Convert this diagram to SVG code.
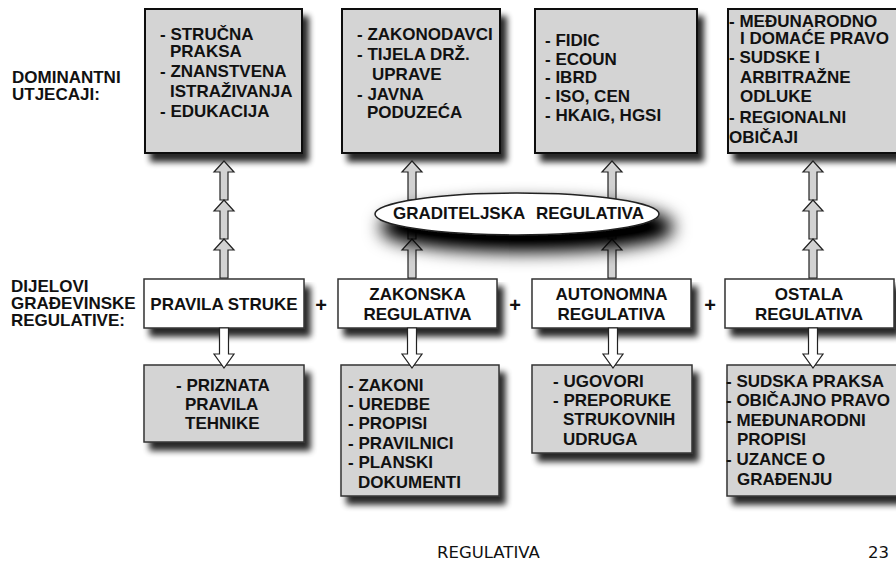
<svg xmlns="http://www.w3.org/2000/svg" xmlns:xlink="http://www.w3.org/1999/xlink" width="896" height="564" viewBox="0 0 896 564">
<style>
.t{font-family:"Liberation Sans",Arial,sans-serif;font-weight:bold;font-size:17px;fill:#111}
.c{text-anchor:middle}
.pl{font-size:20px}
.gbox{fill:#d4d4d4;stroke:#111;stroke-width:2}
.mbox{fill:#fff;stroke:#333;stroke-width:1.5}
.bbox{fill:#d4d4d4;stroke:#333;stroke-width:1.5}
.up{fill:#d2d2d2;stroke:#222;stroke-width:1.2}
.dn{fill:#fff;stroke:#222;stroke-width:1.2}
.foot{font-family:"DejaVu Sans",Verdana,sans-serif;font-size:16.5px;fill:#111}
</style>
<defs>
<filter id="sh" x="-10%" y="-10%" width="130%" height="150%">
<feGaussianBlur in="SourceAlpha" stdDeviation="3"/>
<feOffset dx="6" dy="8" result="o"/>
<feComponentTransfer><feFuncA type="linear" slope="0.85"/></feComponentTransfer>
<feMerge><feMergeNode/><feMergeNode in="SourceGraphic"/></feMerge>
</filter>
<filter id="esh" x="-30%" y="-150%" width="160%" height="420%">
<feMorphology in="SourceAlpha" operator="dilate" radius="3"/>
<feGaussianBlur stdDeviation="9"/>
<feOffset dx="10" dy="13"/>
<feComponentTransfer><feFuncA type="linear" slope="1.1"/></feComponentTransfer>
<feMerge><feMergeNode/><feMergeNode in="SourceGraphic"/></feMerge>
</filter>
<path id="ua" class="up" d="M0,0 L10,11 L4,11 L4,39 L-4,39 L-4,11 L-10,11 Z"/>
<path id="da" class="dn" d="M-4.5,0 L4.5,0 L4.5,26 L10,26 L0,40 L-10,26 L-4.5,26 Z"/>
</defs>
<rect width="896" height="564" fill="#fff"/>

<g id="label-dominantni">
<text class="t" x="12" y="83">DOMINANTNI</text>
<text class="t" x="12" y="100">UTJECAJI:</text>
</g>
<g id="label-dijelovi">
<text class="t" x="11" y="292">DIJELOVI</text>
<text class="t" x="11" y="309">GRAĐEVINSKE</text>
<text class="t" x="11" y="326">REGULATIVE:</text>
</g>

<g id="top1">
<rect class="gbox" x="145" y="9" width="157" height="144" filter="url(#sh)"/>
<text class="t" x="160" y="40">- STRUČNA</text>
<text class="t" x="170" y="57">PRAKSA</text>
<text class="t" x="160" y="77">- ZNANSTVENA</text>
<text class="t" x="170" y="97">ISTRAŽIVANJA</text>
<text class="t" x="160" y="117">- EDUKACIJA</text>
</g>
<g id="top2">
<rect class="gbox" x="342" y="9" width="158" height="144" filter="url(#sh)"/>
<text class="t" x="357" y="40">- ZAKONODAVCI</text>
<text class="t" x="357" y="60">- TIJELA DRŽ.</text>
<text class="t" x="372" y="80">UPRAVE</text>
<text class="t" x="357" y="100">- JAVNA</text>
<text class="t" x="367" y="118">PODUZEĆA</text>
</g>
<g id="top3">
<rect class="gbox" x="535" y="9" width="162" height="144" filter="url(#sh)"/>
<text class="t" x="545" y="46">- FIDIC</text>
<text class="t" x="545" y="65">- ECOUN</text>
<text class="t" x="545" y="83">- IBRD</text>
<text class="t" x="545" y="102">- ISO, CEN</text>
<text class="t" x="545" y="121">- HKAIG, HGSI</text>
</g>
<g id="top4">
<rect class="gbox" x="728" y="9" width="180" height="144" filter="url(#sh)"/>
<text class="t" x="729" y="27">- MEĐUNARODNO</text>
<text class="t" x="740" y="44">I DOMAĆE PRAVO</text>
<text class="t" x="729" y="63">- SUDSKE I</text>
<text class="t" x="740" y="83">ARBITRAŽNE</text>
<text class="t" x="740" y="102">ODLUKE</text>
<text class="t" x="729" y="123">- REGIONALNI</text>
<text class="t" x="729" y="143">OBIČAJI</text>
</g>

<g id="mid1">
<rect class="mbox" x="144" y="279" width="160" height="49" filter="url(#sh)"/>
<text class="t c" x="224" y="310">PRAVILA STRUKE</text>
</g>
<g id="mid2">
<rect class="mbox" x="338" y="279" width="159" height="49" filter="url(#sh)"/>
<text class="t c" x="417.5" y="300">ZAKONSKA</text>
<text class="t c" x="417.5" y="320">REGULATIVA</text>
</g>
<g id="mid3">
<rect class="mbox" x="532" y="279" width="159" height="49" filter="url(#sh)"/>
<text class="t c" x="611.5" y="300">AUTONOMNA</text>
<text class="t c" x="611.5" y="320">REGULATIVA</text>
</g>
<g id="mid4">
<rect class="mbox" x="725" y="279" width="169" height="49" filter="url(#sh)"/>
<text class="t c" x="809" y="300">OSTALA</text>
<text class="t c" x="809" y="320">REGULATIVA</text>
</g>
<g id="plus">
<text class="t c pl" x="321" y="312">+</text>
<text class="t c pl" x="515" y="312">+</text>
<text class="t c pl" x="710" y="312">+</text>
</g>

<g id="bot1">
<rect class="bbox" x="144" y="365" width="160" height="77" filter="url(#sh)"/>
<text class="t" x="176" y="391">- PRIZNATA</text>
<text class="t" x="185" y="410">PRAVILA</text>
<text class="t" x="185" y="429">TEHNIKE</text>
</g>
<g id="bot2">
<rect class="bbox" x="341" y="365" width="158" height="131" filter="url(#sh)"/>
<text class="t" x="348" y="391">- ZAKONI</text>
<text class="t" x="348" y="410">- UREDBE</text>
<text class="t" x="348" y="429">- PROPISI</text>
<text class="t" x="348" y="449">- PRAVILNICI</text>
<text class="t" x="348" y="468">- PLANSKI</text>
<text class="t" x="358" y="488">DOKUMENTI</text>
</g>
<g id="bot3">
<rect class="bbox" x="532" y="365" width="160" height="88" filter="url(#sh)"/>
<text class="t" x="553" y="387">- UGOVORI</text>
<text class="t" x="553" y="406">- PREPORUKE</text>
<text class="t" x="563" y="425">STRUKOVNIH</text>
<text class="t" x="563" y="445">UDRUGA</text>
</g>
<g id="bot4">
<rect class="bbox" x="727" y="365" width="180" height="131" filter="url(#sh)"/>
<text class="t" x="726" y="387">- SUDSKA PRAKSA</text>
<text class="t" x="726" y="406">- OBIČAJNO PRAVO</text>
<text class="t" x="726" y="426">- MEĐUNARODNI</text>
<text class="t" x="737" y="445">PROPISI</text>
<text class="t" x="726" y="465">- UZANCE O</text>
<text class="t" x="737" y="485">GRAĐENJU</text>
</g>

<g id="connectors">
<use xlink:href="#ua" x="224" y="161"/>
<use xlink:href="#ua" x="224" y="200"/>
<use xlink:href="#ua" x="224" y="239"/>
<use xlink:href="#ua" x="412" y="161"/>
<use xlink:href="#ua" x="412" y="200"/>
<use xlink:href="#ua" x="412" y="239"/>
<use xlink:href="#ua" x="612" y="161"/>
<use xlink:href="#ua" x="612" y="200"/>
<use xlink:href="#ua" x="612" y="239"/>
<use xlink:href="#ua" x="813" y="161"/>
<use xlink:href="#ua" x="813" y="200"/>
<use xlink:href="#ua" x="813" y="239"/>
<use xlink:href="#da" x="224" y="328"/>
<use xlink:href="#da" x="412" y="328"/>
<use xlink:href="#da" x="613" y="328"/>
<use xlink:href="#da" x="813" y="328"/>
</g>

<g id="graditeljska">
<ellipse cx="517" cy="214" rx="142" ry="21" fill="#fff" stroke="#222" stroke-width="1.5" filter="url(#esh)"/>
<text class="t" x="393" y="219">GRADITELJSKA</text>
<text class="t" x="536" y="219">REGULATIVA</text>
</g>

<g id="footer">
<text class="foot" x="437" y="558">REGULATIVA</text>
<text class="foot" x="889" y="558" text-anchor="end">23</text>
</g>
</svg>
